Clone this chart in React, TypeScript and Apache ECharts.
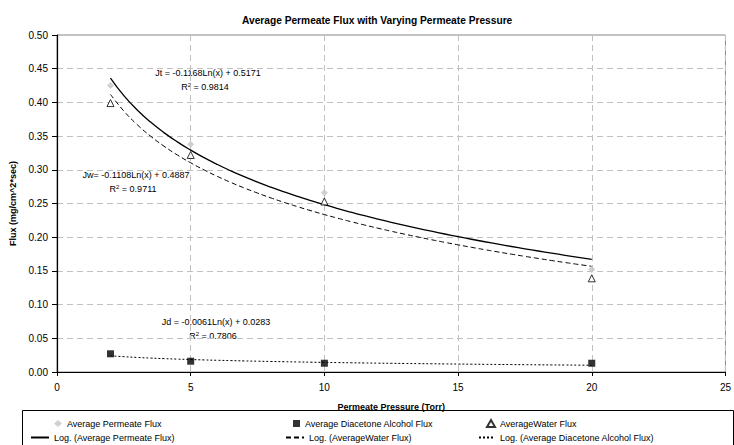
import React, { useEffect, useRef } from "react";
import * as echarts from "echarts";

const pressures = [2, 5, 10, 20];
const permeateFlux = [0.425, 0.338, 0.266, 0.152];
const diacetoneFlux = [0.027, 0.016, 0.013, 0.013];
const waterFlux = [0.399, 0.322, 0.253, 0.139];

// printed trendline coefficients: y = a*Ln(x) + b
const fitPermeate = [-0.1168, 0.5171];
const fitWater = [-0.1108, 0.4887];
const fitDiacetone = [-0.0061, 0.0283];

const trendX = Array.from({ length: 37 }, (_, i) => 2 + i * 0.5);
const trend = (c: number[]) => trendX.map((x) => [x, c[0] * Math.log(x) + c[1]]);

const FONT = "'Liberation Sans', Arial, sans-serif";

export default function App() {
  const ref = useRef<HTMLDivElement>(null);
  useEffect(() => {
    if (!ref.current) return;
    const chart = echarts.init(ref.current, undefined, { renderer: "svg" });
    const names = [
      "Average Permeate Flux",
      "Average Diacetone Alcohol Flux",
      "AverageWater Flux",
      "Log. (Average Permeate Flux)",
      "Log. (AverageWater Flux)",
      "Log. (Average Diacetone Alcohol Flux)",
    ];
    // [left, top, itemWidth, itemHeight]
    const legendPos = [
      [54, 419, 8, 7],
      [293, 419, 7, 7],
      [486, 419, 8, 7],
      [30, 433, 18, 8],
      [285, 433, 18, 8],
      [478, 433, 16, 8],
    ];
    const eqText = (x: number, y: number, eq: string, r2: string) => [
      {
        type: "text",
        x,
        y,
        style: {
          text: eq,
          fontSize: 9,
          fontFamily: FONT,
          fontWeight: "normal",
          fill: "#000",
          align: "center",
          verticalAlign: "middle",
        },
      },
      {
        type: "text",
        x: x - 3,
        y: y + 14,
        style: {
          text: "R{sup|2} = " + r2,
          fontSize: 9,
          fontFamily: FONT,
          fontWeight: "normal",
          fill: "#000",
          align: "center",
          verticalAlign: "middle",
          rich: {
            sup: { fontSize: 6, fontFamily: FONT, padding: [0, 0, 5, 0] },
          },
        },
      },
    ];
    chart.setOption({
      animation: false,
      backgroundColor: "#fff",
      title: {
        text: "Average Permeate Flux with Varying Permeate Pressure",
        left: 237,
        top: 10,
        textStyle: { fontFamily: FONT, fontSize: 10.2, fontWeight: "bold", color: "#000" },
      },
      grid: {
        left: 57,
        right: 2,
        top: 35,
        bottom: 73,
        show: true,
        borderColor: "#888",
        borderWidth: 1,
      },
      xAxis: {
        type: "value",
        min: 0,
        max: 25,
        interval: 5,
        name: "Permeate Pressure (Torr)",
        nameLocation: "middle",
        nameGap: 30,
        nameTextStyle: { fontFamily: FONT, fontSize: 9, fontWeight: "bold", color: "#000" },
        axisLine: { lineStyle: { color: "#000", width: 1.2 } },
        axisTick: { show: true, length: 4, lineStyle: { color: "#000" } },
        axisLabel: { fontFamily: FONT, fontSize: 10, color: "#000", margin: 10 },
        splitLine: { show: true, lineStyle: { color: "#c0c0c0", type: [6, 4] } },
      },
      yAxis: {
        type: "value",
        min: 0,
        max: 0.5,
        interval: 0.05,
        name: "Flux (mg/cm^2*sec)",
        nameLocation: "middle",
        nameGap: 36,
        nameRotate: 90,
        nameTextStyle: { fontFamily: FONT, fontSize: 9, fontWeight: "bold", color: "#000" },
        axisLine: { show: true, lineStyle: { color: "#000", width: 1.2 } },
        axisTick: { show: true, length: 5, lineStyle: { color: "#000" } },
        axisLabel: {
          fontFamily: FONT,
          fontSize: 10,
          color: "#000",
          margin: 9,
          formatter: (v: number) => v.toFixed(2),
        },
        splitLine: { show: true, lineStyle: { color: "#c0c0c0", type: [6, 4] } },
      },
      legend: names.map((n, i) => ({
        data: [n],
        left: legendPos[i][0],
        top: legendPos[i][1],
        itemWidth: legendPos[i][2],
        itemHeight: legendPos[i][3],
        padding: 0,
        selectedMode: false,
        textStyle: { fontFamily: FONT, fontSize: 9, color: "#000" },
        ...(i >= 3
          ? { itemStyle: { opacity: 0, color: "rgba(0,0,0,0)", borderWidth: 0 } }
          : {}),
      })),
      graphic: [
        {
          type: "rect",
          shape: { x: 22.5, y: 410.5, width: 711, height: 40 },
          style: { fill: "none", stroke: "#000", lineWidth: 1 },
          z: 100,
        },
        ...eqText(208, 73, "Jt = -0.1168Ln(x) + 0.5171", "0.9814"),
        ...eqText(136, 175, "Jw= -0.1108Ln(x) + 0.4887", "0.9711"),
        ...eqText(216, 322, "Jd = -0.0061Ln(x) + 0.0283", "0.7806"),
      ],
      series: [
        {
          name: names[0],
          type: "scatter",
          symbol: "diamond",
          symbolSize: 7,
          itemStyle: { color: "#c4c4c4" },
          data: pressures.map((x, i) => [x, permeateFlux[i]]),
          z: 3,
        },
        {
          name: names[1],
          type: "scatter",
          symbol: "rect",
          symbolSize: 7,
          itemStyle: { color: "#000" },
          data: pressures.map((x, i) => [x, diacetoneFlux[i]]),
          z: 3,
        },
        {
          name: names[2],
          type: "scatter",
          symbol: "triangle",
          symbolSize: 7,
          itemStyle: { color: "#fff", borderColor: "#000", borderWidth: 1 },
          data: pressures.map((x, i) => [x, waterFlux[i]]),
          z: 3,
        },
        {
          name: names[3],
          type: "line",
          showSymbol: false,
          symbol: "none",
          smooth: true,
          lineStyle: { color: "#000", width: 1.3, type: "solid" },
          itemStyle: { color: "#000" },
          data: trend(fitPermeate),
          z: 2,
        },
        {
          name: names[4],
          type: "line",
          showSymbol: false,
          symbol: "none",
          smooth: true,
          lineStyle: { color: "#000", width: 1, type: [5, 3] },
          itemStyle: { color: "#000" },
          data: trend(fitWater),
          z: 2,
        },
        {
          name: names[5],
          type: "line",
          showSymbol: false,
          symbol: "none",
          smooth: true,
          lineStyle: { color: "#000", width: 1, type: [2, 2] },
          itemStyle: { color: "#000" },
          data: trend(fitDiacetone),
          z: 2,
        },
      ],
    });
    return () => chart.dispose();
  }, []);
  return (
    <div
      ref={ref}
      style={{ position: "fixed", left: 0, top: 0, width: 734, height: 445, background: "#fff" }}
    />
  );
}
